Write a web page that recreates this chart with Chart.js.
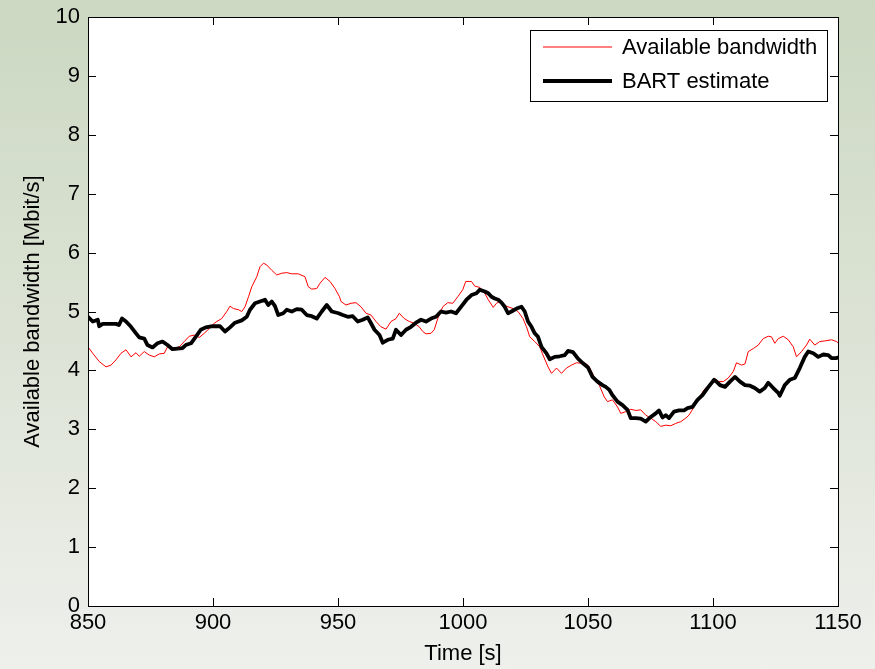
<!DOCTYPE html>
<html><head><meta charset="utf-8">
<style>
html,body{margin:0;padding:0;}
body{width:875px;height:669px;overflow:hidden;background:linear-gradient(to bottom,#ccd8c2 0%,#dce3d5 50%,#eef0ec 100%);}
#wrap{width:875px;height:669px;position:relative}
canvas{display:block}
</style>
<script src="https://cdn.jsdelivr.net/npm/chart.js@4/dist/chart.umd.min.js"></script>
</head><body><div id="wrap"><canvas id="c" width="875" height="669"></canvas></div>
<script>
const timeAvail = [850,851.9,854.5,857.2,859.2,861.2,863.2,865.2,867.2,869.2,870.5,872.5,874.5,876.5,878.5,880.5,881.8,883.8,886.5,888.5,890.5,892.5,894.5,896.5,898.5,900.5,901.5,903.5,905.5,906.8,908.2,910.2,911.5,912.8,914.2,915.5,917.5,918.8,920.2,921.5,923.5,925.5,927.5,929.5,931.5,934.1,936.8,938.1,939.5,941.5,942.8,944.8,946.8,948.8,950.6,951.2,953.2,955.2,957.2,959.2,961.2,963.2,965.2,967.2,969.2,971.2,973.2,974.5,976.5,978.5,980.5,982.5,983.9,985.2,987.2,988.5,989.9,991.9,993.9,995.9,997.9,999.9,1001.1,1003.4,1004.7,1006.7,1008.7,1010.1,1012.1,1013.4,1014.7,1016.0,1018.0,1020.0,1022.0,1024.0,1025.4,1026.7,1028.7,1030.7,1032.0,1034.0,1035.4,1037.4,1039.4,1041.4,1043.4,1045.4,1047.4,1049.4,1050.5,1052.5,1054.5,1056.5,1057.8,1059.8,1061.8,1063.1,1065.1,1067.1,1069.1,1071.1,1073.1,1075.1,1077.1,1079.1,1081.1,1083.1,1085.1,1087.1,1089.1,1090.4,1092.4,1094.4,1096.4,1098.4,1100.4,1102.1,1104.1,1106.1,1108.1,1109.4,1111.4,1112.8,1114.1,1116.1,1118.1,1120.1,1122.1,1123.4,1124.7,1126.1,1128.1,1130.1,1132.1,1133.4,1135.4,1137.4,1138.7,1140.7,1142.7,1144.7,1147.4,1149.4,1150];
const availBandwidth = [4.40,4.29,4.15,4.06,4.09,4.18,4.29,4.35,4.23,4.30,4.24,4.32,4.26,4.23,4.28,4.29,4.40,4.37,4.40,4.49,4.58,4.60,4.56,4.63,4.71,4.80,4.83,4.88,5.00,5.09,5.05,5.03,5.00,5.08,5.25,5.42,5.59,5.76,5.82,5.79,5.70,5.62,5.65,5.66,5.64,5.64,5.59,5.42,5.38,5.39,5.48,5.58,5.51,5.39,5.25,5.17,5.11,5.14,5.15,5.08,4.97,4.94,4.83,4.74,4.70,4.83,4.88,4.97,4.88,4.83,4.80,4.74,4.66,4.62,4.63,4.69,4.88,5.08,5.15,5.14,5.25,5.37,5.51,5.51,5.43,5.41,5.31,5.20,5.07,5.14,5.17,5.11,5.08,5.05,5.00,4.88,4.74,4.57,4.49,4.40,4.26,4.06,3.95,4.04,3.95,4.04,4.09,4.13,4.12,4.11,4.06,3.89,3.75,3.55,3.47,3.50,3.38,3.27,3.30,3.34,3.32,3.33,3.24,3.19,3.13,3.05,3.07,3.06,3.10,3.13,3.19,3.24,3.38,3.53,3.67,3.75,3.87,3.81,3.81,3.87,3.98,4.13,4.09,4.11,4.32,4.37,4.43,4.54,4.58,4.57,4.46,4.54,4.58,4.52,4.40,4.23,4.32,4.43,4.53,4.43,4.49,4.50,4.52,4.49,4.47];

const timeBart = [850,851.9,853.9,854.5,855.9,861.2,862.4,863.6,865.2,867.2,869.2,870.5,872.5,873.8,875.8,877.8,879.8,881.8,883.8,885.8,887.8,889.1,891.2,893.1,895.1,897.1,899.8,902.8,904.8,906.8,908.8,911.5,913.5,914.8,916.8,918.8,920.8,922.1,923.5,924.8,926.1,928.1,929.5,931.5,933.5,935.5,937.5,939.5,941.5,943.5,945.5,947.5,950.2,951.9,953.9,955.9,957.9,959.9,961.9,963.2,964.6,966.6,967.9,969.9,971.9,973.2,975.2,977.2,979.2,981.2,983.2,985.2,987.2,989.2,991.2,993.2,995.2,997.2,999.2,1001.4,1003.4,1005.4,1006.7,1008.7,1010.1,1011.4,1012.7,1014.1,1015.4,1016.7,1018.0,1019.4,1021.4,1023.4,1024.7,1026.0,1027.4,1028.7,1030.0,1031.4,1033.4,1034.7,1036.7,1038.7,1040.7,1042.0,1044.0,1046.0,1048.0,1050.0,1051.8,1053.8,1055.8,1057.1,1058.5,1059.8,1061.8,1063.8,1065.8,1067.1,1069.1,1071.1,1073.1,1075.1,1077.1,1078.4,1079.8,1081.1,1082.4,1084.4,1086.4,1088.4,1089.8,1091.8,1093.8,1095.8,1097.8,1100.4,1101.4,1102.8,1104.8,1106.8,1108.8,1110.8,1112.8,1114.8,1116.7,1118.7,1120.7,1122.1,1124.1,1126.1,1126.7,1128.7,1130.7,1132.7,1134.7,1136.7,1138.1,1140.1,1142.1,1144.1,1146.1,1147.4,1149.4,1150];
const bartEstimate = [4.91,4.83,4.86,4.75,4.79,4.79,4.77,4.88,4.83,4.74,4.63,4.56,4.54,4.43,4.39,4.46,4.49,4.43,4.36,4.37,4.38,4.43,4.46,4.57,4.69,4.73,4.75,4.75,4.66,4.73,4.81,4.85,4.91,5.03,5.14,5.17,5.20,5.11,5.17,5.09,4.94,4.97,5.03,5.00,5.04,5.03,4.94,4.92,4.88,5.00,5.11,5.00,4.97,4.94,4.91,4.92,4.83,4.86,4.90,4.80,4.69,4.60,4.47,4.52,4.54,4.69,4.60,4.69,4.74,4.81,4.86,4.83,4.88,4.91,5.00,4.98,5.00,4.97,5.08,5.20,5.28,5.31,5.37,5.34,5.31,5.25,5.22,5.20,5.15,5.08,4.97,5.00,5.05,5.08,5.00,4.83,4.74,4.63,4.57,4.40,4.29,4.19,4.23,4.24,4.26,4.33,4.31,4.20,4.12,4.05,3.89,3.81,3.75,3.72,3.67,3.58,3.47,3.41,3.33,3.19,3.19,3.18,3.13,3.21,3.27,3.32,3.20,3.24,3.19,3.30,3.32,3.32,3.36,3.38,3.50,3.58,3.70,3.84,3.81,3.75,3.72,3.81,3.89,3.81,3.75,3.74,3.70,3.64,3.70,3.79,3.70,3.62,3.57,3.75,3.84,3.87,4.04,4.23,4.32,4.29,4.23,4.27,4.26,4.21,4.21,4.22];

const xTickValues = [850,900,950,1000,1050,1100,1150];
const yTickValues = [0,1,2,3,4,5,6,7,8,9,10];
const seriesLabels = ['Available bandwidth','BART estimate'];

const FONT = '"Liberation Sans", Arial, Helvetica, sans-serif';
const FS = 22;

const framePlugin = {
  id: 'frame',
  beforeDatasetsDraw(chart) {
    const {ctx, chartArea: a} = chart;
    ctx.save();
    ctx.fillStyle = '#ffffff';
    ctx.fillRect(a.left, a.top, a.right - a.left, a.bottom - a.top);
    ctx.restore();
  },
  afterDatasetsDraw(chart) {
    const {ctx, chartArea: a, scales} = chart;
    const L = 8;
    ctx.save();
    ctx.strokeStyle = '#000';
    ctx.lineWidth = 1;
    ctx.beginPath();
    xTickValues.forEach(v => {
      const x = Math.round(scales.x.getPixelForValue(v)) + 0.5;
      ctx.moveTo(x, a.bottom); ctx.lineTo(x, a.bottom - L);
      ctx.moveTo(x, a.top); ctx.lineTo(x, a.top + L);
    });
    yTickValues.forEach(v => {
      const y = Math.round(scales.y.getPixelForValue(v)) + 0.5;
      ctx.moveTo(a.left, y); ctx.lineTo(a.left + L, y);
      ctx.moveTo(a.right, y); ctx.lineTo(a.right - L, y);
    });
    ctx.stroke();
    ctx.strokeRect(Math.round(a.left) + 0.5, Math.round(a.top) + 0.5, Math.round(a.right - a.left), Math.round(a.bottom - a.top));
    // legend
    const bx = 530.5, by = 30.5, bw = 297, bh = 71;
    ctx.fillStyle = '#fff';
    ctx.fillRect(bx, by, bw, bh);
    ctx.strokeRect(bx, by, bw, bh);
    ctx.font = FS + 'px ' + FONT;
    ctx.textBaseline = 'middle';
    ctx.textAlign = 'left';
    const rows = [47, 81];
    chart.data.datasets.forEach((ds, i) => {
      const y = rows[i];
      ctx.strokeStyle = ds.borderColor;
      ctx.lineWidth = ds.borderWidth;
      ctx.beginPath(); ctx.moveTo(543, y); ctx.lineTo(612, y); ctx.stroke();
      ctx.fillStyle = '#000';
      ctx.fillText(ds.label, 622, y + 1);
    });
    ctx.restore();
  }
};

new Chart(document.getElementById('c'), {
  type: 'line',
  data: {
    datasets: [
      {label: seriesLabels[0], data: timeAvail.map((t,i)=>({x:t,y:availBandwidth[i]})), borderColor:'#ff0000', borderWidth:1, pointRadius:0, tension:0, fill:false, order:1},
      {label: seriesLabels[1], data: timeBart.map((t,i)=>({x:t,y:bartEstimate[i]})), borderColor:'#000000', borderWidth:3.8, pointRadius:0, tension:0, fill:false, order:0, borderJoinStyle:'round', borderCapStyle:'round'}
    ]
  },
  options: {
    responsive: false,
    animation: false,
    devicePixelRatio: 1,
    layout: {padding: {left: 0, right: 37, top: 17, bottom: 0}},
    plugins: {legend: {display:false}, tooltip: {enabled:false}},
    scales: {
      x: {
        type: 'linear', min: 850, max: 1150,
        afterBuildTicks: s => { s.ticks = xTickValues.map(v => ({value: v})); },
        afterFit: s => { s.height = 63; s.paddingLeft = 0; s.paddingRight = 0; },
        grid: {display:false, drawTicks:false},
        border: {display:false},
        ticks: {color:'#000', font:{family:FONT, size:FS}, padding:4, maxRotation:0, autoSkip:false, callback: v => String(v)},
        title: {display:true, text:'Time [s]', color:'#000', font:{family:FONT, size:FS, lineHeight:1.2}, padding:{top:0, bottom:2}}
      },
      y: {
        type: 'linear', min: 0, max: 10,
        afterBuildTicks: s => { s.ticks = yTickValues.map(v => ({value: v})); },
        afterFit: s => { s.width = 88; s.paddingTop = 0; s.paddingBottom = 0; },
        grid: {display:false, drawTicks:false},
        border: {display:false},
        ticks: {color:'#000', font:{family:FONT, size:FS}, padding:8, autoSkip:false, callback: v => String(v)},
        title: {display:true, text:'Available bandwidth [Mbit/s]', color:'#000', font:{family:FONT, size:FS, lineHeight:1.2}, padding:{top:20, bottom:0}}
      }
    }
  },
  plugins: [framePlugin]
});
</script>
</body></html>
